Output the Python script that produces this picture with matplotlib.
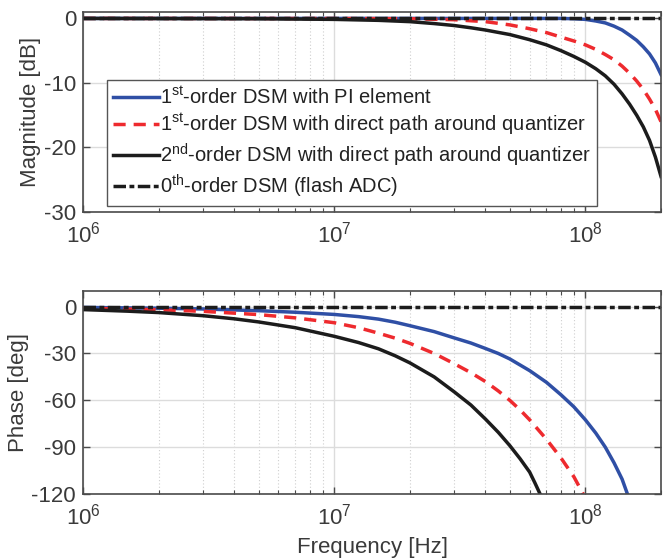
import matplotlib
matplotlib.use("Agg")
import matplotlib.pyplot as plt
from matplotlib.ticker import LogLocator, NullFormatter

plt.rcParams['font.family'] = ['Liberation Sans', 'DejaVu Sans']
plt.rcParams['mathtext.fontset'] = 'custom'
plt.rcParams['mathtext.rm'] = 'Liberation Sans'
plt.rcParams['mathtext.it'] = 'Liberation Sans:italic'
plt.rcParams['mathtext.bf'] = 'Liberation Sans:bold'
plt.rcParams['axes.unicode_minus'] = False

# ---------------- data ----------------
labels = [
    "1$^{\\mathrm{st}}$-order DSM with PI element",
    "1$^{\\mathrm{st}}$-order DSM with direct path around quantizer",
    "2$^{\\mathrm{nd}}$-order DSM with direct path around quantizer",
    "0$^{\\mathrm{th}}$-order DSM (flash ADC)",
]

# magnitude [dB]
f_mag_pi = [1e6, 1e7, 5e7, 8e7, 9e7, 1e8, 1.1e8, 1.2e8, 1.3e8, 1.4e8, 1.5e8, 1.6e8, 1.7e8, 1.8e8, 1.9e8, 2e8]
mag_pi = [0, 0, 0, 0, -0.05, -0.15, -0.4, -0.7, -1.2, -1.8, -2.6, -3.4, -4.4, -5.5, -6.9, -8.7]

f_mag_dp1 = [1e6, 1e7, 2e7, 3e7, 4e7, 5e7, 6e7, 7e7, 8e7, 9e7, 1e8, 1.1e8, 1.2e8, 1.3e8, 1.4e8, 1.5e8, 1.6e8, 1.7e8, 1.8e8, 1.9e8, 2e8]
mag_dp1 = [0, -0.02, -0.05, -0.2, -0.5, -1.0, -1.6, -2.2, -2.9, -3.5, -4.1, -4.8, -5.6, -6.4, -7.4, -8.5, -9.7, -11.0, -12.5, -14.1, -16.0]

f_mag_dp2 = [1e6, 5e6, 1e7, 1.5e7, 2e7, 2.5e7, 3e7, 3.5e7, 4e7, 5e7, 6e7, 7e7, 8e7, 9e7, 1e8, 1.1e8, 1.2e8, 1.3e8, 1.4e8, 1.5e8, 1.6e8, 1.7e8, 1.8e8, 1.9e8, 2e8]
mag_dp2 = [0, -0.05, -0.15, -0.3, -0.5, -0.8, -1.1, -1.45, -1.8, -2.5, -3.3, -4.1, -5.0, -5.9, -6.8, -7.8, -8.9, -10.2, -11.7, -13.3, -15.0, -16.8, -18.9, -21.5, -24.5]

f_mag_flash = [1e6, 2e8]
mag_flash = [0, 0]

# phase [deg]
f_ph_pi = [1e6, 2e6, 3e6, 5e6, 7e6, 1e7, 1.25e7, 1.5e7, 1.75e7, 2e7, 2.5e7, 3e7, 3.5e7, 4e7, 4.5e7, 5e7, 6e7, 7e7, 8e7, 9e7, 1e8, 1.1e8, 1.2e8, 1.3e8, 1.4e8, 1.47e8]
ph_pi = [-0.5, -1.0, -1.5, -2.6, -3.6, -5.0, -6.4, -8.0, -10.0, -12.2, -16.0, -20.0, -23.3, -26.8, -30.0, -33.5, -41.0, -48.5, -56.5, -64.2, -72.5, -81.0, -90.0, -100.0, -110.5, -120.0]

f_ph_dp1 = [1e6, 2e6, 3e6, 5e6, 7e6, 1e7, 1.25e7, 1.5e7, 1.75e7, 2e7, 2.5e7, 3e7, 3.5e7, 4e7, 4.5e7, 5e7, 5.5e7, 6e7, 7e7, 8e7, 9e7, 9.8e7]
ph_dp1 = [-1.0, -2.0, -3.0, -5.1, -7.2, -10.3, -13.5, -17.0, -20.2, -23.5, -30.0, -36.5, -42.3, -48.0, -54.0, -60.0, -66.2, -72.5, -85.0, -97.0, -109.0, -120.0]

f_ph_dp2 = [1e6, 1.5e6, 2e6, 3e6, 4e6, 5e6, 7e6, 1e7, 1.25e7, 1.5e7, 1.75e7, 2e7, 2.5e7, 3e7, 3.5e7, 4e7, 4.5e7, 5e7, 5.5e7, 6e7, 6.3e7, 6.6e7]
ph_dp2 = [-1.9, -2.9, -3.8, -5.8, -7.8, -9.8, -13.5, -19.0, -23.0, -27.0, -31.5, -36.0, -45.0, -54.5, -63.0, -72.0, -80.5, -89.0, -97.5, -106.0, -113.0, -120.0]

f_ph_flash = [1e6, 2e8]
ph_flash = [0, 0]

x_limits = (1e6, 2e8)
mag_ticks = [-30, -20, -10, 0]
ph_ticks = [-120, -90, -60, -30, 0]

# ---------------- style ----------------
c_blue = '#2f4fa5'
c_red = '#ee2a2e'
c_black = '#1c1c1c'
lw = 2.5
txt = '#3a3a3a'
spine_c = '#4a4a4a'
dash_red = (0, (3.5, 2.3))
dash_dot = (0, (3.6, 1.0, 1.4, 1.0))

fig = plt.figure(figsize=(6.63, 5.59), dpi=100)
ax1 = fig.add_axes([0.1252, 0.6208, 0.8718, 0.3578])
ax2 = fig.add_axes([0.1252, 0.1163, 0.8718, 0.3631])


def style(ax):
    ax.set_xscale('log')
    ax.set_xlim(*x_limits)
    ax.xaxis.set_major_locator(LogLocator(base=10, numticks=10))
    ax.xaxis.set_minor_locator(LogLocator(base=10, subs=range(2, 10), numticks=100))
    ax.xaxis.set_minor_formatter(NullFormatter())
    ax.grid(True, which='major', color='#dcdcdc', linewidth=1.0, linestyle='-')
    ax.grid(True, which='minor', axis='x', color='#cfcfcf', linewidth=0.8, linestyle=(0, (1, 2)))
    ax.set_axisbelow(True)
    ax.tick_params(which='both', direction='in', top=True, right=True, colors=spine_c,
                   labelcolor=txt, labelsize=16)
    ax.tick_params(axis='y', which='major', pad=5)
    ax.tick_params(axis='x', which='major', pad=7)
    ax.tick_params(which='major', length=5, width=1)
    ax.tick_params(which='minor', length=3, width=0.8)
    for s in ax.spines.values():
        s.set_color(spine_c)
        s.set_linewidth(1.2)


for ax in (ax1, ax2):
    style(ax)

# magnitude
ax1.plot(f_mag_pi, mag_pi, color=c_blue, lw=lw, label=labels[0])
ax1.plot(f_mag_dp1, mag_dp1, color=c_red, lw=lw, linestyle=dash_red, label=labels[1])
ax1.plot(f_mag_dp2, mag_dp2, color=c_black, lw=lw, label=labels[2])
ax1.plot(f_mag_flash, mag_flash, color=c_black, lw=lw, linestyle=dash_dot, label=labels[3])
ax1.set_ylim(-30, 1)
ax1.set_yticks(mag_ticks)
ax1.set_ylabel('Magnitude [dB]', fontsize=16, color=txt, labelpad=2)

leg = ax1.legend(loc='lower left', bbox_to_anchor=(0.041, 0.03), fontsize=14.5,
                 frameon=True, fancybox=False, edgecolor='#555555', framealpha=1,
                 handlelength=2.3, handletextpad=0.05, borderpad=0.3, labelspacing=0.2,
                 borderaxespad=0)
leg.get_frame().set_linewidth(1.0)
for t in leg.get_texts():
    t.set_color('#222222')

# phase
ax2.plot(f_ph_pi, ph_pi, color=c_blue, lw=lw)
ax2.plot(f_ph_dp1, ph_dp1, color=c_red, lw=lw, linestyle=dash_red)
ax2.plot(f_ph_dp2, ph_dp2, color=c_black, lw=lw)
ax2.plot(f_ph_flash, ph_flash, color=c_black, lw=lw, linestyle=dash_dot)
ax2.set_ylim(-120, 10)
ax2.set_yticks(ph_ticks)
ax2.set_ylabel('Phase [deg]', fontsize=16, color=txt, labelpad=2)
ax2.set_xlabel('Frequency [Hz]', fontsize=16, color=txt, labelpad=5)

fig.savefig('out.png', dpi=100)
